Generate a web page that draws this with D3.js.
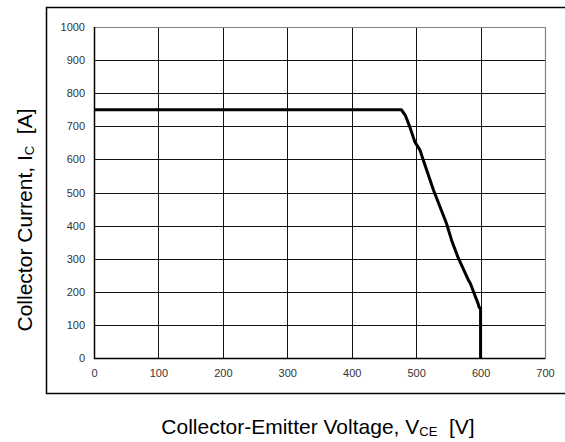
<!DOCTYPE html>
<html>
<head>
<meta charset="utf-8">
<script src="https://cdn.jsdelivr.net/npm/d3@7"></script>
<style>
  body { margin: 0; background: #fff; }
  text { font-family: "Liberation Sans", Arial, sans-serif; }
</style>
</head>
<body>
<div class="canvas"></div>
<script>
// safe operating area curve
const vce = [0, 477, 483, 490, 498, 506, 511, 527, 547, 555, 565, 581, 584, 596, 598, 600, 600];
const ic = [750, 750, 734, 699, 653, 628, 598, 507, 407, 356, 304, 236, 226, 165, 152, 150, 0];
const xTicks = [0, 100, 200, 300, 400, 500, 600, 700];
const yTicks = [0, 100, 200, 300, 400, 500, 600, 700, 800, 900, 1000];

const svg = d3.select('.canvas')
    .append('svg')
    .attr('width', 565)
    .attr('height', 442);

// outer frame
svg.append('rect')
    .attr('x', 46.5)
    .attr('y', 7.5)
    .attr('width', 530)
    .attr('height', 386)
    .attr('fill', 'none')
    .attr('stroke', '#000')
    .attr('stroke-width', 1.5);

const margin = { top: 27, left: 94 };
const graphWidth = 451;
const graphHeight = 331;

const graph = svg.append('g')
    .attr('transform', `translate(${margin.left},${margin.top})`);

const x = d3.scaleLinear().domain([0, 700]).range([0, graphWidth]);
const y = d3.scaleLinear().domain([0, 1000]).range([graphHeight, 0]);

// grid
graph.append('g')
    .selectAll('line')
    .data(xTicks.slice(1, -1))
    .enter()
    .append('line')
    .attr('x1', d => Math.round(x(d)) + 0.5)
    .attr('x2', d => Math.round(x(d)) + 0.5)
    .attr('y1', 0)
    .attr('y2', graphHeight)
    .attr('stroke', '#111');

graph.append('g')
    .selectAll('line')
    .data(yTicks.slice(1, -1))
    .enter()
    .append('line')
    .attr('y1', d => Math.round(y(d)) + 0.5)
    .attr('y2', d => Math.round(y(d)) + 0.5)
    .attr('x1', 0)
    .attr('x2', graphWidth)
    .attr('stroke', '#111');

// plot box: top/right gray, left/bottom black
graph.append('path')
    .attr('d', `M0.5,0.5H${graphWidth + 0.5}V${graphHeight}`)
    .attr('fill', 'none')
    .attr('stroke', '#808080')
    .attr('stroke-width', 1.2);
graph.append('path')
    .attr('d', `M0.5,0V${graphHeight + 0.5}H${graphWidth + 0.5}`)
    .attr('fill', 'none')
    .attr('stroke', '#000')
    .attr('stroke-width', 1.5);

// tick labels via d3 axes, lines hidden
const xAxis = d3.axisBottom(x).tickValues(xTicks).tickSize(0).tickPadding(11).tickFormat(d3.format('d'));
const yAxis = d3.axisLeft(y).tickValues(yTicks).tickSize(0).tickPadding(9).tickFormat(d3.format('d'));

const xAxisGroup = graph.append('g')
    .attr('transform', `translate(0, ${graphHeight})`)
    .call(xAxis);
const yAxisGroup = graph.append('g').call(yAxis);

[xAxisGroup, yAxisGroup].forEach(g => {
    g.select('.domain').remove();
    g.selectAll('text')
        .attr('font-family', '"Liberation Sans", Arial, sans-serif')
        .attr('font-size', 11)
        .attr('fill', '#333');
});

// curve
const pts = vce.map((v, i) => [v, ic[i]]);
graph.append('path')
    .datum(pts)
    .attr('d', d3.line().x(d => x(d[0])).y(d => y(d[1])))
    .attr('fill', 'none')
    .attr('stroke', '#000')
    .attr('stroke-width', 3)
    .attr('stroke-linejoin', 'round');

// titles
const xt = svg.append('text')
    .attr('x', 318)
    .attr('y', 434)
    .attr('text-anchor', 'middle')
    .attr('font-size', 21)
    .attr('fill', '#000');
xt.append('tspan').text('Collector-Emitter Voltage, V');
xt.append('tspan').attr('font-size', 13).attr('dy', 2).text('CE');
xt.append('tspan').attr('dy', -2).text('\u00a0\u00a0[V]');

const yt = svg.append('text')
    .attr('transform', 'translate(32,220) rotate(-90)')
    .attr('text-anchor', 'middle')
    .attr('font-size', 21)
    .attr('fill', '#000');
yt.append('tspan').text('Collector Current, I');
yt.append('tspan').attr('font-size', 13).attr('dy', 2).text('C');
yt.append('tspan').attr('dy', -2).text('\u00a0\u00a0[A]');
</script>
</body>
</html>
